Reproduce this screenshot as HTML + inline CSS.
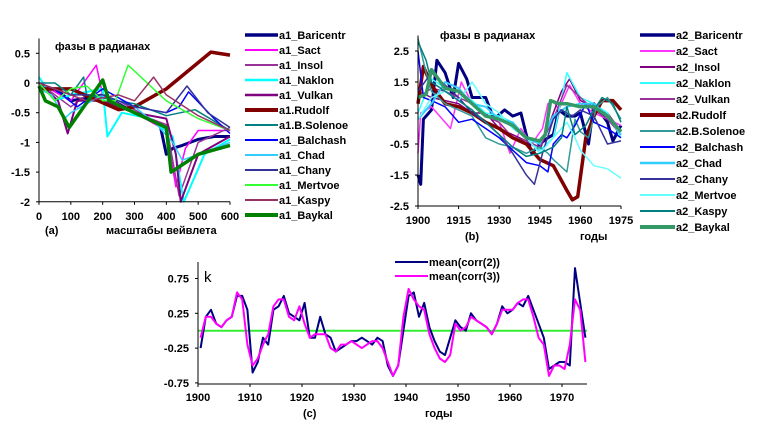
<!DOCTYPE html>
<html><head><meta charset="utf-8"><style>
body{margin:0;background:#fff;}
svg{display:block;font-family:"Liberation Sans",Arial,sans-serif;font-weight:bold;}
</style></head><body>
<svg id="s" width="759" height="433">
<g id="ga"></g>
<g id="gb"></g>
<g id="gc"></g>
</svg>
<script>
// ---------- Chart A data ----------
const aNames=["a1_Baricentr","a1_Sact","a1_Insol","a1_Naklon","a1_Vulkan","a1.Rudolf","a1.B.Solenoe","a1_Balchash","a1_Chad","a1_Chany","a1_Mertvoe","a1_Kaspy","a1_Baykal"];
const aColors=["#000080","#ff00ff","#993399","#00ffff","#800080","#800000","#008080","#0000ff","#33ccff","#333399","#33ff33","#993366","#008000"];
const aWidths=[3,1.5,1.5,2,2,3.5,1.5,1.5,1.5,1.5,1.5,1.5,3.5];
const aXTicks=[0,100,200,300,400,500,600];
const aYTicks=[0.5,0,-0.5,-1,-1.5,-2];
const aYLabels=["0.5","0","-0.5","-1","-1.5","-2"];
const aX0=[0,50,100,200,300,380,400,420,450,500,550,600];
const aY0=[-0.1,-0.1,-0.3,-0.2,-0.5,-0.7,-1.2,-1.1,-1.05,-0.95,-0.9,-0.9];
const aX1=[0,100,180,200,300,400,430,460,500,600];
const aY1=[0,-0.3,0.3,-0.2,-0.5,-0.8,-1.75,-1.1,-0.8,-0.8];
const aX2=[0,100,150,250,350,400,440,500,600];
const aY2=[0,-0.4,-0.2,-0.3,-0.6,-0.7,-1.9,-1.0,-0.75];
const aX3=[0,50,100,200,215,260,350,420,455,520,600];
const aY3=[0.1,-0.3,-0.2,-0.1,-0.9,-0.5,-0.6,-0.9,-2.0,-1.2,-0.95];
const aX4=[0,60,90,120,200,300,400,430,445,500,600];
const aY4=[0,-0.3,-0.85,-0.3,-0.3,-0.5,-0.6,-1.2,-2.0,-1.2,-0.9];
const aX5=[0,100,250,300,400,540,600];
const aY5=[-0.1,-0.1,-0.45,-0.4,-0.1,0.52,0.47];
const aX6=[0,50,100,140,150,300,400,490,600];
const aY6=[0,0,-0.2,0.1,-0.2,-0.35,-0.55,-0.45,-0.8];
const aX7=[0,50,120,200,300,400,440,470,550,600];
const aY7=[0,-0.1,-0.4,-0.1,-0.4,-0.5,-0.4,-0.15,-0.6,-0.85];
const aX8=[0,40,80,100,200,300,370,420,450,600];
const aY8=[-0.1,-0.2,-0.6,-0.5,-0.2,-0.4,-0.7,-1.0,-1.3,-1.0];
const aX9=[0,100,200,300,400,465,530,600];
const aY9=[0,-0.2,-0.2,-0.4,-0.5,-0.05,-0.5,-0.75];
const aX10=[0,50,100,150,200,240,280,300,400,500,600];
const aY10=[0,-0.3,-0.1,-0.05,-0.3,-0.3,0.3,0.2,-0.3,-0.6,-0.8];
const aX11=[0,50,100,150,250,300,360,400,500,600];
const aY11=[0,-0.1,-0.2,-0.3,-0.2,-0.3,0.1,-0.2,-0.55,-0.8];
const aX12=[0,20,60,95,200,220,300,400,415,500,600];
const aY12=[-0.05,-0.3,-0.4,-0.75,0.05,-0.3,-0.5,-0.75,-1.5,-1.2,-1.05];
const aXs=[aX0,aX1,aX2,aX3,aX4,aX5,aX6,aX7,aX8,aX9,aX10,aX11,aX12];
const aYs=[aY0,aY1,aY2,aY3,aY4,aY5,aY6,aY7,aY8,aY9,aY10,aY11,aY12];

// ---------- Chart B data ----------
const bNames=["a2_Baricentr","a2_Sact","a2_Insol","a2_Naklon","a2_Vulkan","a2.Rudolf","a2.B.Solenoe","a2_Balchash","a2_Chad","a2_Chany","a2_Mertvoe","a2_Kaspy","a2_Baykal"];
const bColors=["#000080","#ff33ff","#800080","#33ffff","#993399","#800000","#339999","#0000ff","#33ccff","#333399","#66ffff","#008080","#339966"];
const bWidths=[3,1.5,1.5,1.5,1.5,3.5,1.5,1.5,2,1.5,1.5,1.5,3.5];
const bXTicks=[1900,1915,1930,1945,1960,1975];
const bYTicks=[2.5,1.5,0.5,-0.5,-1.5,-2.5];
const bX0=[1900,1901,1902,1905,1907,1910,1913,1915,1918,1920,1925,1928,1932,1935,1938,1940,1942,1945,1948,1950,1952,1955,1958,1960,1963,1965,1970,1972,1975];
const bY0=[-1.5,-1.8,0.3,0.6,2.2,1.8,1.0,2.1,1.6,1.0,1.0,0.3,0.6,0.4,0.5,-0.2,-0.8,-0.5,-0.3,-0.2,0.6,0.4,0.4,0.5,-0.5,0.8,0.2,-0.4,0.1];
const bX1=[1900,1901,1905,1908,1912,1916,1920,1925,1930,1934,1938,1942,1946,1948,1950,1952,1956,1960,1965,1970,1975];
const bY1=[-0.8,0.5,0.7,0.4,0.0,1.5,0.8,0.4,0.2,-0.8,0.0,-0.5,0.0,0.8,0.9,0.6,1.4,0.8,0.5,0.3,0.1];
const bX2=[1900,1905,1910,1915,1920,1925,1930,1935,1940,1945,1950,1953,1956,1960,1965,1970,1975];
const bY2=[1.2,1.0,0.9,0.8,0.5,0.5,0.0,-0.2,-0.4,-0.7,0.5,1.2,1.6,0.9,0.7,0.5,-0.1];
const bX3=[1900,1905,1910,1915,1920,1925,1930,1935,1940,1945,1950,1955,1960,1965,1970,1975];
const bY3=[0.5,1.6,1.3,1.2,0.9,0.5,0.4,0.2,-0.3,-0.7,-0.3,1.8,1.0,0.8,0.5,-0.3];
const bX4=[1900,1905,1910,1915,1920,1925,1930,1935,1940,1945,1950,1955,1960,1965,1970,1975];
const bY4=[1.0,1.3,1.2,1.0,0.8,0.4,0.2,-0.3,-0.4,-0.6,0.3,1.4,1.0,0.6,0.3,-0.2];
const bX5=[1900,1902,1905,1910,1915,1920,1925,1930,1935,1940,1945,1950,1955,1957,1959,1962,1965,1968,1972,1975];
const bY5=[0.8,2.0,1.4,0.8,0.7,0.5,0.2,0.0,-0.3,-0.5,-1.0,-1.2,-2.0,-2.3,-2.2,-0.3,0.4,0.9,0.9,0.6];
const bX6=[1900,1903,1905,1910,1915,1920,1925,1930,1935,1940,1945,1948,1950,1955,1958,1960,1963,1966,1970,1975];
const bY6=[2.9,1.8,1.2,0.8,0.6,0.4,-0.3,-0.5,-0.6,-0.8,-0.6,-0.8,-1.0,-1.4,0.3,-0.1,-0.3,0.7,1.0,0.3];
const bX7=[1900,1902,1905,1910,1915,1920,1925,1930,1935,1940,1945,1948,1950,1953,1955,1958,1962,1965,1970,1975];
const bY7=[2.5,1.0,0.9,0.7,0.2,0.3,0.0,-0.3,-0.7,-1.1,-1.2,-1.4,-0.5,-0.2,-0.3,0.1,0.8,0.2,0.0,-0.3];
const bX8=[1900,1905,1910,1915,1920,1925,1930,1935,1940,1945,1950,1955,1960,1965,1970,1975];
const bY8=[0.3,0.8,1.5,1.3,0.8,0.7,0.3,0.2,-0.3,-0.5,0.4,0.7,0.8,0.8,0.4,-0.2];
const bX9=[1900,1905,1910,1915,1920,1925,1930,1935,1940,1943,1946,1950,1953,1957,1960,1965,1970,1975];
const bY9=[1.2,1.8,1.4,1.0,0.5,0.2,-0.2,-0.8,-1.5,-1.8,-0.8,0.3,0.6,0.4,0.6,0.4,-0.5,-0.4];
const bX10=[1900,1905,1910,1915,1920,1925,1930,1935,1940,1945,1950,1955,1958,1960,1965,1970,1975];
const bY10=[0.3,1.0,1.2,0.9,1.5,0.8,0.5,0.0,-0.3,-0.8,-0.3,0.2,-0.3,-0.7,-1.2,-1.3,-1.6];
const bX11=[1900,1903,1905,1910,1915,1920,1925,1930,1935,1940,1945,1950,1953,1955,1958,1962,1965,1968,1972,1975];
const bY11=[2.8,2.2,1.5,1.2,0.9,0.6,0.2,-0.2,-0.6,-0.9,-0.8,-0.6,-0.3,0.7,-0.2,0.1,0.6,1.0,0.8,0.2];
const bX12=[1900,1903,1905,1910,1915,1920,1925,1930,1935,1940,1945,1947,1949,1952,1955,1960,1965,1970,1975];
const bY12=[1.0,1.1,1.9,1.3,1.2,0.8,0.4,0.3,0.1,-0.3,-0.4,-0.2,0.9,0.8,0.8,0.7,0.7,0.4,-0.1];
const bXs=[bX0,bX1,bX2,bX3,bX4,bX5,bX6,bX7,bX8,bX9,bX10,bX11,bX12];
const bYs=[bY0,bY1,bY2,bY3,bY4,bY5,bY6,bY7,bY8,bY9,bY10,bY11,bY12];

// ---------- Chart C data ----------
const cYears=[];for(let y=1900;y<=1974;y++)cYears.push(y);
const corr2=[-0.25,0.2,0.3,0.1,0.05,0.15,0.2,0.5,0.5,0.3,-0.6,-0.45,-0.1,-0.2,0.3,0.35,0.5,0.25,0.2,0.15,0.4,-0.1,-0.1,0.2,-0.05,-0.1,-0.3,-0.25,-0.2,-0.15,-0.15,-0.1,-0.15,-0.2,-0.1,-0.15,-0.5,-0.65,-0.5,0.0,0.5,0.55,0.2,0.4,0.05,-0.15,-0.3,-0.35,-0.1,0.15,0.05,0.0,0.25,0.15,0.1,0.05,-0.05,0.1,0.35,0.25,0.3,0.4,0.35,0.5,0.3,0.1,-0.1,-0.55,-0.5,-0.45,-0.45,-0.5,0.9,0.4,-0.1];
const corr3=[-0.1,0.2,0.2,0.1,0.05,0.15,0.2,0.55,0.45,-0.2,-0.5,-0.4,-0.2,-0.05,0.35,0.45,0.45,0.2,0.15,0.35,0.1,-0.1,-0.05,-0.05,-0.05,-0.25,-0.3,-0.2,-0.2,-0.15,-0.2,-0.25,-0.2,-0.15,-0.15,-0.25,-0.45,-0.65,-0.5,0.2,0.6,0.45,0.35,0.3,-0.05,-0.25,-0.4,-0.45,-0.35,0.1,0.0,0.05,0.2,0.15,0.1,0.05,-0.05,0.1,0.3,0.3,0.3,0.4,0.45,0.45,0.2,-0.1,-0.2,-0.65,-0.5,-0.5,-0.55,-0.2,0.45,0.3,-0.45];
const cXTicks=[1900,1910,1920,1930,1940,1950,1960,1970];
const cYTicks=[0.75,0.25,-0.25,-0.75];
const cSeriesNames=["mean(corr(2))","mean(corr(3))"];
const cRef=0;

const NS="http://www.w3.org/2000/svg";
function mk(parent,tag,attrs,text){const e=document.createElementNS(NS,tag);for(const k in attrs)e.setAttribute(k,attrs[k]);if(text!==undefined)e.textContent=text;parent.appendChild(e);return e;}

// Chart A
const ga=document.getElementById('ga');
const axA=v=>39+v*(191/600), ayA=v=>83-v*59.4;
for(let i=0;i<13;i++){
  const d=aXs[i].map((x,j)=>(j?'L':'M')+axA(x).toFixed(1)+','+ayA(aYs[i][j]).toFixed(1)).join('');
  const p=mk(ga,'path',{d:d,fill:'none',stroke:aColors[i],'stroke-width':aWidths[i],'stroke-linejoin':'round'});
  
  
}
mk(ga,'line',{x1:39,y1:ayA(0.75),x2:39,y2:ayA(-2),stroke:'#000','stroke-width':1,});
mk(ga,'line',{x1:39,y1:ayA(-2),x2:axA(600),y2:ayA(-2),stroke:'#000','stroke-width':1,});
aYTicks.forEach((v,i)=>{mk(ga,'line',{x1:36,y1:ayA(v),x2:39,y2:ayA(v),stroke:'#000'});
  const t=mk(ga,'text',{x:30,y:ayA(v)+4,'text-anchor':'end','font-size':11},aYLabels[i]);
  });
aXTicks.forEach(v=>{mk(ga,'line',{x1:axA(v),y1:ayA(-2),x2:axA(v),y2:ayA(-2)+3,stroke:'#000'});
  const t=mk(ga,'text',{x:axA(v),y:220,'text-anchor':'middle','font-size':11},String(v));
  });
mk(ga,'text',{x:55,y:50,'font-size':11,},'фазы в радианах');
mk(ga,'text',{x:45,y:234,'font-size':11,},'(a)');
mk(ga,'text',{x:106,y:234,'font-size':11,},'масштабы вейвлета');
for(let i=0;i<13;i++){const y=35+i*15;
  const g=mk(ga,'g',{});
  mk(g,'line',{x1:245,y1:y,x2:278,y2:y,stroke:aColors[i],'stroke-width':aWidths[i]+0.5});
  mk(g,'text',{x:279,y:y+4,'font-size':11},aNames[i]);}

// Chart B
const gb=document.getElementById('gb');
const axB=v=>418+(v-1900)*(203/75), ayB=v=>128.5-v*31;
for(let i=0;i<13;i++){
  const d=bXs[i].map((x,j)=>(j?'L':'M')+axB(x).toFixed(1)+','+ayB(bYs[i][j]).toFixed(1)).join('');
  const p=mk(gb,'path',{d:d,fill:'none',stroke:bColors[i],'stroke-width':bWidths[i],'stroke-linejoin':'round'});
  
  
}
mk(gb,'line',{x1:418,y1:ayB(3),x2:418,y2:ayB(-2.5),stroke:'#000',});
mk(gb,'line',{x1:418,y1:ayB(-2.5),x2:axB(1975),y2:ayB(-2.5),stroke:'#000',});
bYTicks.forEach(v=>{mk(gb,'line',{x1:415,y1:ayB(v),x2:418,y2:ayB(v),stroke:'#000'});
  const t=mk(gb,'text',{x:409,y:ayB(v)+4,'text-anchor':'end','font-size':11},String(v));
  });
bXTicks.forEach(v=>{mk(gb,'line',{x1:axB(v),y1:ayB(-2.5),x2:axB(v),y2:ayB(-2.5)+3,stroke:'#000'});
  const t=mk(gb,'text',{x:axB(v),y:224,'text-anchor':'middle','font-size':11},String(v));
  });
mk(gb,'text',{x:440,y:39,'font-size':11,},'фазы в радианах');
mk(gb,'text',{x:465,y:240,'font-size':11,},'(b)');
mk(gb,'text',{x:580,y:240,'font-size':11,},'годы');
for(let i=0;i<13;i++){const y=35+i*16;
  const g=mk(gb,'g',{});
  mk(g,'line',{x1:640,y1:y,x2:675,y2:y,stroke:bColors[i],'stroke-width':bWidths[i]+0.5});
  mk(g,'text',{x:676,y:y+4,'font-size':11},bNames[i]);}

// Chart C
const gc=document.getElementById('gc');
const axC=v=>198+(v-1900)*5.2, ayC=v=>330.7-v*69.6;
mk(gc,'line',{x1:198,y1:ayC(cRef),x2:axC(1974.8),y2:ayC(cRef),stroke:'#33ee33','stroke-width':2,});
[[corr2,'#000080',2,'series-corr2'],[corr3,'#ff00ff',2,'series-corr3']].forEach(s=>{
  const d=cYears.map((x,j)=>(j?'L':'M')+axC(x+0.5).toFixed(1)+','+ayC(s[0][j]).toFixed(1)).join('');
  const p=mk(gc,'path',{d:d,fill:'none',stroke:s[1],'stroke-width':s[2],'stroke-linejoin':'round'});
  });
mk(gc,'line',{x1:198,y1:262,x2:198,y2:384,stroke:'#000',});
mk(gc,'line',{x1:198,y1:384,x2:587,y2:384,stroke:'#000',});
cYTicks.forEach(v=>{mk(gc,'line',{x1:195,y1:ayC(v),x2:198,y2:ayC(v),stroke:'#000'});
  const t=mk(gc,'text',{x:189,y:ayC(v)+4,'text-anchor':'end','font-size':11},String(v));
  });
cXTicks.forEach(v=>{mk(gc,'line',{x1:axC(v),y1:384,x2:axC(v),y2:387,stroke:'#000'});
  const t=mk(gc,'text',{x:axC(v),y:401,'text-anchor':'middle','font-size':11},String(v));
  });
mk(gc,'text',{x:204,y:282,'font-size':15,'font-weight':'normal',},'k');
mk(gc,'text',{x:303,y:417,'font-size':11,},'(c)');
mk(gc,'text',{x:425,y:417,'font-size':11,},'годы');
['#000080','#ff00ff'].forEach((c,i)=>{const y=262+i*14;
  const g=mk(gc,'g',{});
  mk(g,'line',{x1:395,y1:y,x2:428,y2:y,stroke:c,'stroke-width':2});
  mk(g,'text',{x:429,y:y+4,'font-size':11},cSeriesNames[i]);});
</script>
</body></html>
